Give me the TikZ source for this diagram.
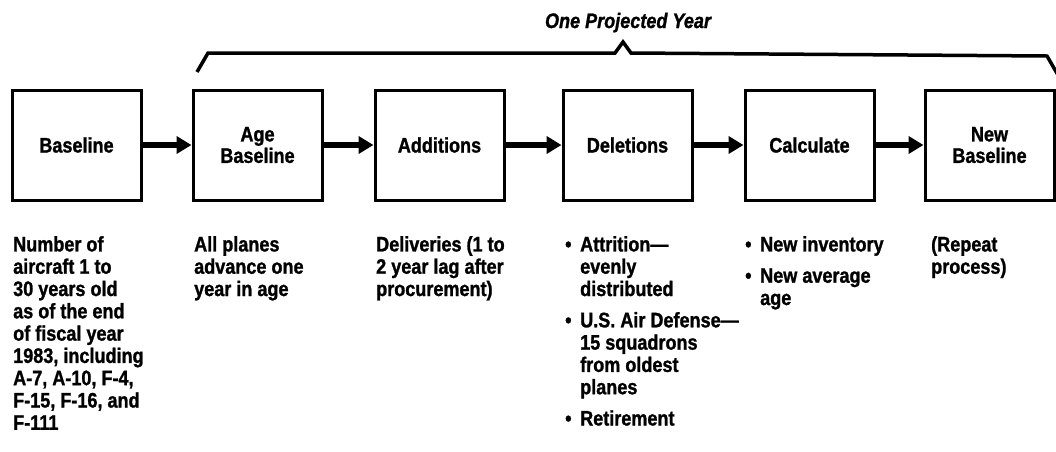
\documentclass[tikz,border=0pt]{standalone}
\usepackage{fontspec}
\setmainfont{Liberation Sans}[FakeStretch=0.86, BoldFeatures={FakeBold=1.2}, BoldItalicFeatures={FakeBold=1.2}]
\usetikzlibrary{arrows.meta}
\begin{document}
\begin{tikzpicture}[x=1pt,y=-1pt,
  stepbox/.style={draw, line width=3pt, minimum width=129pt, minimum height=110pt,
    inner sep=0pt, align=center, font=\fontsize{21}{21.5}\selectfont\bfseries},
  flow/.style={line width=5.5pt, -{Triangle[length=15pt,width=17pt]}},
  txt/.style={anchor=north west, inner sep=0pt, align=left,
    font=\fontsize{21}{22.3}\selectfont\bfseries},
  bracket/.style={line width=3.5pt, line join=miter}]
\useasboundingbox (0,0) rectangle (1056,451);
\clip (0,0) rectangle (1056,451);
% boxes
\node[stepbox] (b1) at (76.5,145) {Baseline};
\node[stepbox] (b2) at (257.5,145) {Age\\Baseline};
\node[stepbox] (b3) at (439.5,145) {Additions};
\node[stepbox] (b4) at (627.5,145) {Deletions};
\node[stepbox] (b5) at (809.5,145) {Calculate};
\node[stepbox] (b6) at (989.5,145) {New\\Baseline};
% arrows
\draw[flow] (b1.east) -- (b2.west);
\draw[flow] (b2.east) -- (b3.west);
\draw[flow] (b3.east) -- (b4.west);
\draw[flow] (b4.east) -- (b5.west);
\draw[flow] (b5.east) -- (b6.west);
% bracket
\coordinate (br0) at (197,72);
\coordinate (br1) at (1062,82);
\draw[bracket] (br0) -- (208,53) -- (615,53) -- (623,42) -- (631,53) -- (1047,56) -- (br1);
\node[anchor=base, inner sep=0pt, font=\fontsize{21}{22}\selectfont\bfseries\itshape] (title) at (628,28) {One Projected Year};
% descriptions
\node[txt] (t1) at (13,236) {Number of\\aircraft 1 to\\30 years old\\as of the end\\of fiscal year\\1983, including\\A-7, A-10, F-4,\\F-15, F-16, and\\F-111};
\node[txt] (t2) at (194,236) {All planes\\advance one\\year in age};
\node[txt] (t3) at (376,236) {Deliveries (1 to\\2 year lag after\\procurement)};
\node[txt] (t4) at (565,236) {\makebox[15pt][l]{\textbullet}Attrition—\\\hspace*{15pt}evenly\\\hspace*{15pt}distributed\\[9pt]\makebox[15pt][l]{\textbullet}U.S. Air Defense—\\\hspace*{15pt}15 squadrons\\\hspace*{15pt}from oldest\\\hspace*{15pt}planes\\[9pt]\makebox[15pt][l]{\textbullet}Retirement};
\node[txt] (t5) at (745,236) {\makebox[15pt][l]{\textbullet}New inventory\\[9pt]\makebox[15pt][l]{\textbullet}New average\\\hspace*{15pt}age};
\node[txt] (t6) at (931,236) {(Repeat\\process)};
\end{tikzpicture}
\end{document}
